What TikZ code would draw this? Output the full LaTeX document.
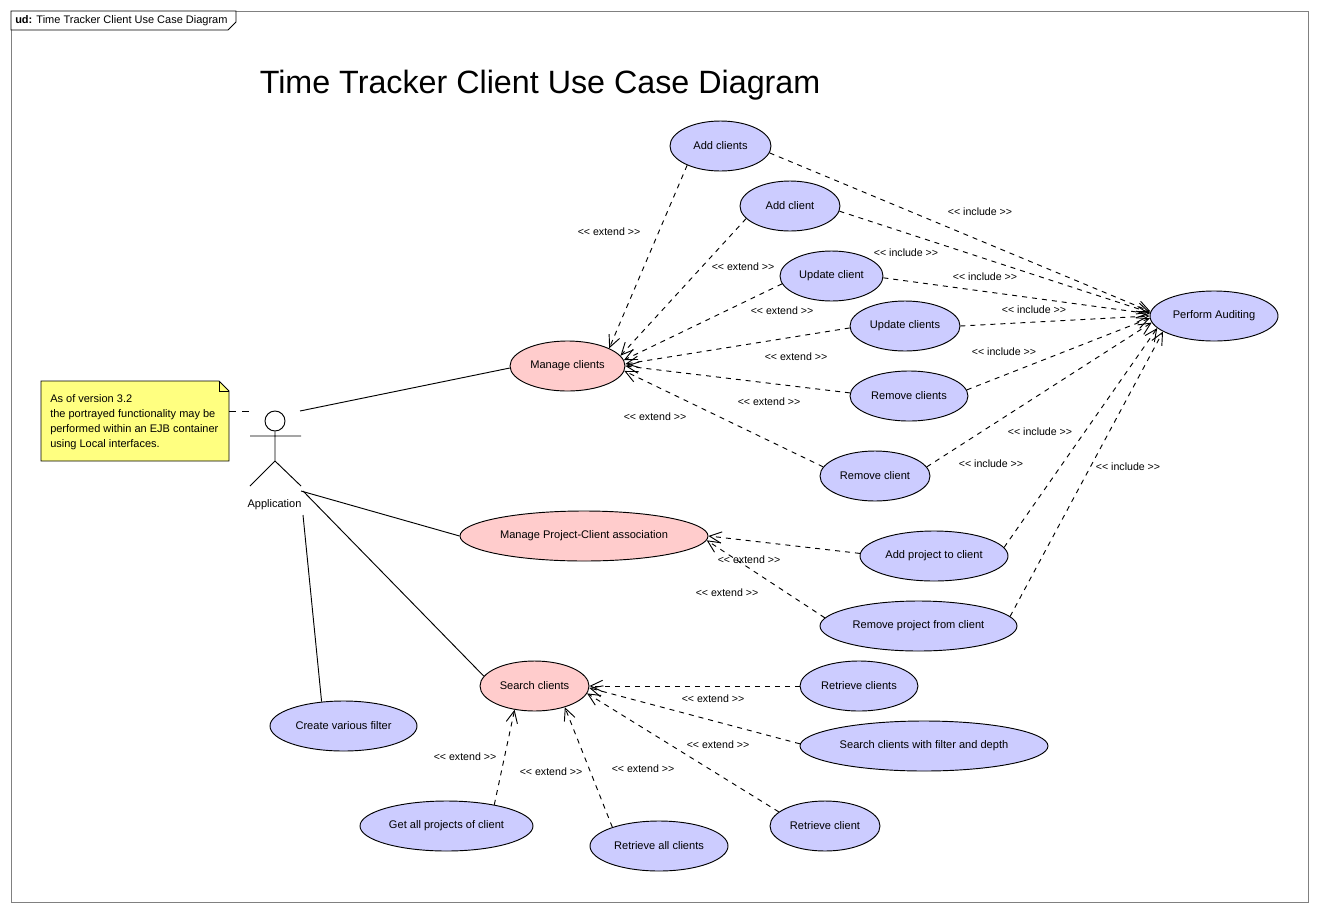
\documentclass[tikz,border=0pt]{standalone}
\usepackage{fontspec}
\setmainfont{Liberation Sans}
\usetikzlibrary{shapes.geometric,arrows.meta}
\definecolor{ucblue}{HTML}{CCCCFF}
\definecolor{ucpink}{HTML}{FFCCCC}
\definecolor{noteyellow}{HTML}{FFFF80}
\definecolor{framegray}{HTML}{808080}
\tikzset{
  uc/.style={ellipse,draw=black,line width=0.7pt,fill=ucblue,inner sep=0pt,minimum height=37.5pt,font=\fontsize{8.3}{10}\selectfont},
  ucp/.style={uc,fill=ucpink},
  lbl/.style={inner sep=0pt,font=\fontsize{7.95}{10}\selectfont},
  dep/.style={draw=black,line width=0.7pt,dash pattern=on 3.75pt off 3.75pt,-{Straight Barb[length=9pt,width=8.5pt]}},
  assoc/.style={draw=black,line width=0.7pt},
  notedash/.style={draw=black,line width=0.7pt,dash pattern=on 5pt off 5pt}
}
\newcommand{\uce}[6][uc]{\node[#1,minimum width=#5*0.75pt] (#2) at (#3,#4) {\raisebox{-0.4pt}{#6}};}
\newcommand{\inc}[3]{\node[lbl] (#1) at (#2,#3) {<{}< include >{}>};}
\newcommand{\ext}[3]{\node[lbl] (#1) at (#2,#3) {<{}< extend >{}>};}
\begin{document}
\begin{tikzpicture}[x=0.75pt,y=-0.75pt]
\useasboundingbox[fill=white] (0,0) rectangle (1318,911);
\draw[framegray,line width=0.7pt,fill=white] (11,11) rectangle (1308,902);
\draw[black,line width=0.7pt,fill=white] (11,11) -- (236,11) -- (236,22) -- (228,30) -- (11,30) -- cycle;
\node[anchor=west,inner sep=0pt,font=\fontsize{8.25}{10}\selectfont] (frametitle) at (15,21) {\textbf{ud:} Time Tracker Client Use Case Diagram};
\node[anchor=west,inner sep=0pt,font=\fontsize{24.2}{28}\selectfont] (title) at (259.5,85) {Time Tracker Client Use Case Diagram};

% note
\draw[black,line width=0.7pt,fill=noteyellow] (41,381) -- (219,381) -- (229,391) -- (229,461) -- (41,461) -- cycle;
\draw[black,line width=0.7pt] (219,381) -- (219,391) -- (229,391);
\node[anchor=north west,inner sep=0pt,align=left,font=\fontsize{8.25}{11.25}\selectfont] (note) at (50,394) {As of version 3.2\\the portrayed functionality may be\\performed within an EJB container\\using Local interfaces.};

% actor
\node[circle,draw=black,line width=0.7pt,inner sep=0pt,minimum width=15pt] (head) at (275,421) {};
\coordinate (neck) at (275,431);
\coordinate (armL) at (250,436);
\coordinate (armR) at (301,436);
\coordinate (hip) at (275,461);
\coordinate (legL) at (250,486);
\coordinate (legR) at (301,486);
\draw[assoc] (head.south) -- (hip) (armL) -- (armR) (legL) -- (hip) -- (legR);
\node[inner sep=0pt,font=\fontsize{8.25}{10}\selectfont] (actorlabel) at (274.5,505) {Application};
\coordinate (aNote) at (250,411);
\coordinate (aTop) at (300,411);
\coordinate (aLow) at (301,491);
\coordinate (aLow2) at (303,491);
\coordinate (aBot) at (303,515);
\coordinate (nOut) at (229,411);

% use cases
\uce{addcs}{720.5}{146}{101}{Add clients}
\uce{addc}{790}{206}{100}{Add client}
\uce{updc}{831.5}{276}{103}{Update client}
\uce{updcs}{905}{326}{110}{Update clients}
\uce{remcs}{909}{396}{118}{Remove clients}
\uce{remc}{875}{476}{110}{Remove client}
\uce{audit}{1214}{316}{128}{Perform Auditing}
\uce[ucp]{manage}{567.5}{366}{115}{Manage clients}
\uce[ucp]{mpc}{584}{536}{248}{Manage Project-Client association}
\uce{addp}{934}{556}{148}{Add project to client}
\uce{remp}{918.5}{626}{197}{Remove project from client}
\uce[ucp]{search}{534.5}{686}{109}{Search clients}
\uce{retcs}{859}{686}{118}{Retrieve clients}
\uce{sfd}{924}{746}{248}{Search clients with filter and depth}
\uce{retc}{825}{826}{110}{Retrieve client}
\uce{retall}{659}{846}{138}{Retrieve all clients}
\uce{getp}{446.5}{826}{173}{Get all projects of client}
\uce{filter}{343.5}{726}{147}{Create various filter}

% associations
\draw[notedash] (nOut) -- (aNote);
\draw[assoc] (aTop) -- (manage.182);
\draw[assoc] (aLow) -- (mpc.180);
\draw[assoc] (aLow2) -- (search.169);
\draw[assoc] (aBot) -- (filter.132);

% extend
\draw[dep] (addcs.210) -- (manage.23);
\draw[dep] (addc.196) -- (manage.11);
\draw[dep] (updc.189) -- (manage.6);
\draw[dep] (updcs.182) -- (manage.2);
\draw[dep] (remcs.177) -- (manage.0);
\draw[dep] (remc.170) -- (manage.355);
\draw[dep] (addp.178) -- (mpc.0);
\draw[dep] (remp.175) -- (mpc.358);
\draw[dep] (retcs.180) -- (search.0);
\draw[dep] (sfd.179) -- (search.358);
\draw[dep] (retc.163) -- (search.352);
\draw[dep] (retall.158) -- (search.325);
\draw[dep] (getp.24) -- (search.230);

% include
\draw[dep] (addcs.352) -- (audit.176);
\draw[dep] (addc.354) -- (audit.177);
\draw[dep] (updc.358) -- (audit.178);
\draw[dep] (updcs.0) -- (audit.180);
\draw[dep] (remcs.6) -- (audit.182);
\draw[dep] (remc.10) -- (audit.186);
\draw[dep] (addp.7) -- (audit.192);
\draw[dep] (remp.6) -- (audit.197);

% labels
\inc{i1}{980}{211.5}\inc{i2}{906}{252.5}\inc{i3}{985}{276.5}\inc{i4}{1034}{309.5}
\inc{i5}{1004}{351.5}\inc{i6}{1040}{431.5}\inc{i7}{991}{463.5}\inc{i8}{1128}{466.5}
\ext{e1}{609}{231.5}\ext{e2}{743}{266.5}\ext{e3}{782}{310.5}\ext{e4}{796}{356.5}
\ext{e5}{769}{401.5}\ext{e6}{655}{416.5}\ext{e7}{749}{559.5}\ext{e8}{727}{592.5}
\ext{e9}{713}{698.5}\ext{e10}{718}{744.5}\ext{e11}{643}{768.5}\ext{e12}{551}{771.5}\ext{e13}{465}{756.5}
\end{tikzpicture}
\end{document}
